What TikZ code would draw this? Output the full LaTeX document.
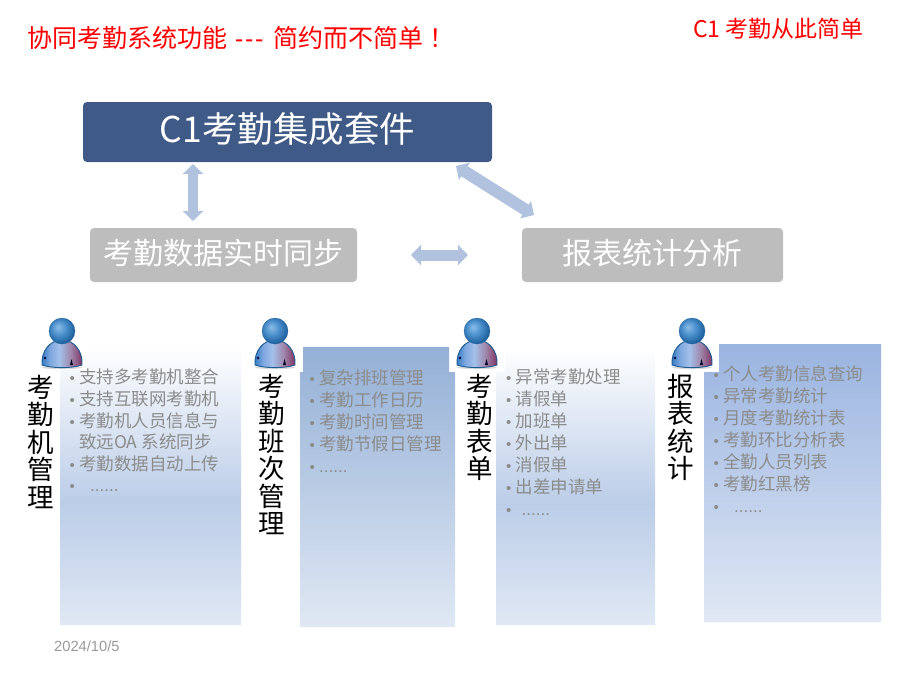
\documentclass[tikz,border=0pt]{standalone}
\usepackage{fontspec}
\setmainfont{Noto Sans CJK SC}
\newfontfamily\latinf{Liberation Sans}
\usetikzlibrary{arrows.meta}
\definecolor{mainblue}{HTML}{3F5A87}
\definecolor{boxgrey}{HTML}{BDBDBD}
\definecolor{arrowblue}{HTML}{B0C2DE}
\definecolor{listgrey}{HTML}{8C8C8C}
\definecolor{fadebot}{HTML}{E0E8F4}
\definecolor{fademid}{HTML}{BBCDE8}
\definecolor{paneltwo}{HTML}{94B0D6}
\definecolor{panelfour}{HTML}{9AB4E0}
\definecolor{headlight}{HTML}{8CBCE8}
\definecolor{headmid}{HTML}{4A8FCB}
\definecolor{headdark}{HTML}{1C5F9C}
\definecolor{bodya}{HTML}{2F78BF}
\definecolor{bodyb}{HTML}{7FA8E0}
\definecolor{bodyc}{HTML}{A4C0EA}
\definecolor{bodyd}{HTML}{A088AC}
\definecolor{bodye}{HTML}{84406E}
\definecolor{bodyline}{HTML}{1C5A90}
\pgfdeclareverticalshading{panelfade}{100bp}{color(0bp)=(fadebot); color(25bp)=(fadebot); color(47bp)=(fademid); color(75bp)=(white); color(100bp)=(white)}
\pgfdeclareradialshading{headball}{\pgfpoint{-8bp}{8bp}}{color(0bp)=(headlight); color(14bp)=(headmid); color(28bp)=(headdark); color(50bp)=(headdark)}
\pgfdeclarehorizontalshading{bodyfade}{100bp}{color(0bp)=(bodya); color(25bp)=(bodya); color(36bp)=(bodyb); color(47bp)=(bodyc); color(60bp)=(bodyd); color(72bp)=(bodye); color(100bp)=(bodye)}
\newcommand{\bu}{\makebox[9.5pt][l]{\latinf\fontsize{15}{15}\selectfont •}}
\newcommand{\dotsline}[1]{\bu\hspace{#1}{\latinf\fontsize{17}{22}\selectfont ......}}
\tikzset{
  x=1pt,y=-1pt,
  mainbox/.style={fill=mainblue,rounded corners=4pt,text=white,inner sep=0pt,minimum width=409pt,minimum height=60pt,font=\fontsize{35.5}{35.5}\selectfont},
  greybox/.style={fill=boxgrey,rounded corners=4pt,text=white,inner sep=0pt,minimum height=54pt,font=\fontsize{30}{30}\selectfont},
  dbl/.style={draw=arrowblue,line width=10pt,{Triangle[length=10pt,width=20pt]}-{Triangle[length=10pt,width=20pt]}},
  redtext/.style={text=red,inner sep=0pt,anchor=west},
  listtext/.style={text=listgrey,inner sep=0pt,anchor=north west,align=left,font=\fontsize{17.5}{22}\selectfont},
  vtext/.style={text=black,inner sep=0pt,anchor=north,align=center,font=\fontsize{26.5}{27.4}\selectfont},
  persona/.pic={
    \fill[black,opacity=.15] (0,36.5) ellipse (20 and 1.6);
    \path[shading=bodyfade,draw=bodyline,line width=.9pt]
      (-20,34) .. controls (-21,20) and (-12,9) .. (0,9) .. controls (12,9) and (21,20) .. (20,34) .. controls (10,37.5) and (-10,37.5) .. (-20,34) -- cycle;
    \fill[black!75!blue] (-17,27) circle (1.3);
    \fill[black!85!blue] (8,34) -- (9.5,28) -- (11,34) -- cycle;
    \path[shading=headball,draw=headdark,line width=.3pt] (0,0) circle (13);
  }
}
\begin{document}
\begin{tikzpicture}
\useasboundingbox (0,0) rectangle (900,675);
% titles
\node[redtext,font=\fontsize{25}{25}\selectfont] (title) at (27,38) {协同考勤系统功能\hspace{8pt}{\latinf -\hspace{1.7pt}-\hspace{1.7pt}-}\hspace{10pt}简约而不简单\hspace{6pt}！};
\node[redtext,font=\fontsize{23}{23}\selectfont] (slogan) at (693,29) {C1 考勤从此简单};
% top boxes
\node[mainbox] (main) at (287.5,132) {\raisebox{9pt}{C1考勤集成套件}};
\node[greybox,minimum width=267pt] (sync) at (223.5,255) {\raisebox{6pt}{考勤数据实时同步}};
\node[greybox,minimum width=261pt] (report) at (652.5,255) {\raisebox{6pt}{报表统计分析}};
% connectors
\coordinate (a1) at (193,164);
\coordinate (a2) at (193,221);
\coordinate (b1) at (411,255);
\coordinate (b2) at (468,255);
\coordinate (c1) at (456,166);
\coordinate (c2) at (534,215);
\draw[dbl] (a1) -- (a2);
\draw[dbl,line width=11pt] (b1) -- (b2);
\draw[dbl,line width=12pt] (c1) -- (c2);
% panels
\path[shading=panelfade] (88,345) -- (241,345) -- (241,625) -- (60,625) -- (60,370) -- (88,370) -- cycle;
\path[top color=paneltwo,bottom color=fadebot]
  (303,347) -- (449,347) -- (449,372) -- (455,372) -- (455,627) -- (300,627) -- (300,372) -- (303,372) -- cycle;
\path[shading=panelfade] (505,347) -- (655,347) -- (655,625) -- (496,625) -- (496,372) -- (505,372) -- cycle;
\path[top color=panelfour,bottom color=fadebot]
  (719,344) -- (881,344) -- (881,622) -- (704,622) -- (704,372) -- (719,372) -- cycle;
% people
\pic (p1) at (62,331) {persona};
\pic (p2) at (275,331) {persona};
\pic (p3) at (477,331) {persona};
\pic (p4) at (692,331) {persona};
% vertical labels
\node[vtext] (v1) at (41,375) {考\\勤\\机\\管\\理};
\node[vtext] (v2) at (272,374) {考\\勤\\班\\次\\管\\理};
\node[vtext] (v3) at (480,374) {考\\勤\\表\\单};
\node[vtext] (v4) at (681,374) {报\\表\\统\\计};
% lists
\node[listtext,font=\fontsize{17.5}{21.6}\selectfont] (l1) at (69.5,369) {\bu 支持多考勤机整合\\\bu 支持互联网考勤机\\\bu 考勤机人员信息与\\\hspace{9.5pt}致远OA 系统同步\\\bu 考勤数据自动上传\\\dotsline{11pt}};
\node[listtext] (l2) at (309.5,370) {\bu 复杂排班管理\\\bu 考勤工作日历\\\bu 考勤时间管理\\\bu 考勤节假日管理\\\dotsline{0pt}};
\node[listtext] (l3) at (506,369) {\bu 异常考勤处理\\\bu 请假单\\\bu 加班单\\\bu 外出单\\\bu 消假单\\\bu 出差申请单\\\dotsline{6pt}};
\node[listtext] (l4) at (713.5,365) {\bu 个人考勤信息查询\\\bu 异常考勤统计\\\bu 月度考勤统计表\\\bu 考勤环比分析表\\\bu 全勤人员列表\\\bu 考勤红黑榜\\\dotsline{11pt}};
% date
\node[text=black!40,inner sep=0pt,anchor=west,font=\latinf\fontsize{14.7}{14.7}\selectfont] (date) at (54,646) {2024/10/5};
\end{tikzpicture}
\end{document}
